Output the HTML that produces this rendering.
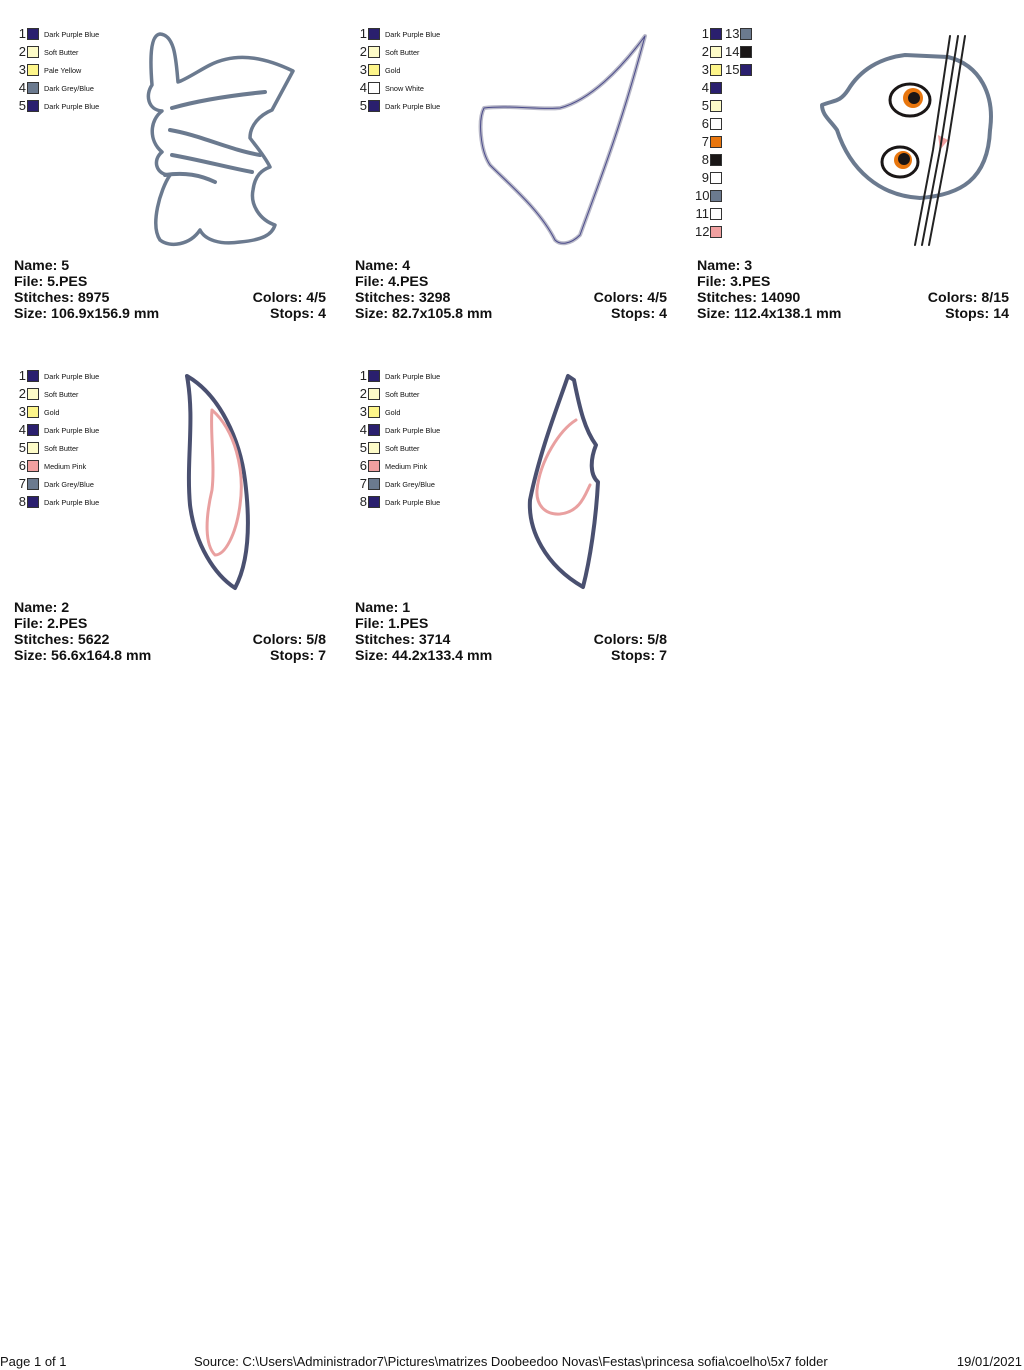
<!DOCTYPE html>
<html><head><meta charset="utf-8"><style>
body{margin:0;width:1024px;height:1370px;background:#fff;position:relative;overflow:hidden;font-family:"Liberation Sans",sans-serif}
.r{position:absolute;height:14px}
.n{position:absolute;width:14px;text-align:right;font-size:13px;line-height:14px;color:#222;left:0}
.s{position:absolute;left:15px;top:1px;width:12px;height:12px;border:1px solid #333;box-sizing:border-box}
.l{position:absolute;left:32px;top:3px;font-size:7.3px;white-space:nowrap;color:#111}
.i{position:absolute;font-weight:bold;font-size:14.2px;line-height:16px;color:#111;width:312px}
.i div{position:relative}
.i span{position:absolute;right:0}
.f{position:absolute;top:1354px;font-size:13px;color:#111}
</style></head><body>

<div class="r" style="left:12px;top:27px"><div class="n">1</div><div class="s" style="background:#2a1f6e"></div><div class="l">Dark Purple Blue</div></div>
<div class="r" style="left:12px;top:45px"><div class="n">2</div><div class="s" style="background:#fdfbc8"></div><div class="l">Soft Butter</div></div>
<div class="r" style="left:12px;top:63px"><div class="n">3</div><div class="s" style="background:#fdf58a"></div><div class="l">Pale Yellow</div></div>
<div class="r" style="left:12px;top:81px"><div class="n">4</div><div class="s" style="background:#6b7a8f"></div><div class="l">Dark Grey/Blue</div></div>
<div class="r" style="left:12px;top:99px"><div class="n">5</div><div class="s" style="background:#2a1f6e"></div><div class="l">Dark Purple Blue</div></div>

<div class="r" style="left:353px;top:27px"><div class="n">1</div><div class="s" style="background:#2a1f6e"></div><div class="l">Dark Purple Blue</div></div>
<div class="r" style="left:353px;top:45px"><div class="n">2</div><div class="s" style="background:#fdfbc8"></div><div class="l">Soft Butter</div></div>
<div class="r" style="left:353px;top:63px"><div class="n">3</div><div class="s" style="background:#fdf58a"></div><div class="l">Gold</div></div>
<div class="r" style="left:353px;top:81px"><div class="n">4</div><div class="s" style="background:#fff"></div><div class="l">Snow White</div></div>
<div class="r" style="left:353px;top:99px"><div class="n">5</div><div class="s" style="background:#2a1f6e"></div><div class="l">Dark Purple Blue</div></div>

<div class="r" style="left:695px;top:27px"><div class="n">1</div><div class="s" style="background:#2a1f6e"></div></div>
<div class="r" style="left:695px;top:45px"><div class="n">2</div><div class="s" style="background:#fdfbc8"></div></div>
<div class="r" style="left:695px;top:63px"><div class="n">3</div><div class="s" style="background:#fdf58a"></div></div>
<div class="r" style="left:695px;top:81px"><div class="n">4</div><div class="s" style="background:#2a1f6e"></div></div>
<div class="r" style="left:695px;top:99px"><div class="n">5</div><div class="s" style="background:#fdfbc8"></div></div>
<div class="r" style="left:695px;top:117px"><div class="n">6</div><div class="s" style="background:#fff"></div></div>
<div class="r" style="left:695px;top:135px"><div class="n">7</div><div class="s" style="background:#e8760e"></div></div>
<div class="r" style="left:695px;top:153px"><div class="n">8</div><div class="s" style="background:#1a1616"></div></div>
<div class="r" style="left:695px;top:171px"><div class="n">9</div><div class="s" style="background:#fff"></div></div>
<div class="r" style="left:695px;top:189px"><div class="n">10</div><div class="s" style="background:#6b7a8f"></div></div>
<div class="r" style="left:695px;top:207px"><div class="n">11</div><div class="s" style="background:#fff"></div></div>
<div class="r" style="left:695px;top:225px"><div class="n">12</div><div class="s" style="background:#f0a0a0"></div></div>
<div class="r" style="left:725px;top:27px"><div class="n">13</div><div class="s" style="background:#6b7a8f"></div></div>
<div class="r" style="left:725px;top:45px"><div class="n">14</div><div class="s" style="background:#1a1616"></div></div>
<div class="r" style="left:725px;top:63px"><div class="n">15</div><div class="s" style="background:#2a1f6e"></div></div>

<div class="r" style="left:12px;top:369px"><div class="n">1</div><div class="s" style="background:#2a1f6e"></div><div class="l">Dark Purple Blue</div></div>
<div class="r" style="left:12px;top:387px"><div class="n">2</div><div class="s" style="background:#fdfbc8"></div><div class="l">Soft Butter</div></div>
<div class="r" style="left:12px;top:405px"><div class="n">3</div><div class="s" style="background:#fdf58a"></div><div class="l">Gold</div></div>
<div class="r" style="left:12px;top:423px"><div class="n">4</div><div class="s" style="background:#2a1f6e"></div><div class="l">Dark Purple Blue</div></div>
<div class="r" style="left:12px;top:441px"><div class="n">5</div><div class="s" style="background:#fdfbc8"></div><div class="l">Soft Butter</div></div>
<div class="r" style="left:12px;top:459px"><div class="n">6</div><div class="s" style="background:#f0a0a0"></div><div class="l">Medium Pink</div></div>
<div class="r" style="left:12px;top:477px"><div class="n">7</div><div class="s" style="background:#6b7a8f"></div><div class="l">Dark Grey/Blue</div></div>
<div class="r" style="left:12px;top:495px"><div class="n">8</div><div class="s" style="background:#2a1f6e"></div><div class="l">Dark Purple Blue</div></div>

<div class="r" style="left:353px;top:369px"><div class="n">1</div><div class="s" style="background:#2a1f6e"></div><div class="l">Dark Purple Blue</div></div>
<div class="r" style="left:353px;top:387px"><div class="n">2</div><div class="s" style="background:#fdfbc8"></div><div class="l">Soft Butter</div></div>
<div class="r" style="left:353px;top:405px"><div class="n">3</div><div class="s" style="background:#fdf58a"></div><div class="l">Gold</div></div>
<div class="r" style="left:353px;top:423px"><div class="n">4</div><div class="s" style="background:#2a1f6e"></div><div class="l">Dark Purple Blue</div></div>
<div class="r" style="left:353px;top:441px"><div class="n">5</div><div class="s" style="background:#fdfbc8"></div><div class="l">Soft Butter</div></div>
<div class="r" style="left:353px;top:459px"><div class="n">6</div><div class="s" style="background:#f0a0a0"></div><div class="l">Medium Pink</div></div>
<div class="r" style="left:353px;top:477px"><div class="n">7</div><div class="s" style="background:#6b7a8f"></div><div class="l">Dark Grey/Blue</div></div>
<div class="r" style="left:353px;top:495px"><div class="n">8</div><div class="s" style="background:#2a1f6e"></div><div class="l">Dark Purple Blue</div></div>

<svg width="1024" height="700" style="position:absolute;left:0;top:0" fill="none" stroke-linejoin="round" stroke-linecap="round">
<g stroke="#6b7a8f" stroke-width="4">
<path d="M293 71 C270 60 240 50 210 65 C200 70 185 80 178 82 C176 60 175 35 160 34 C150 35 150 60 152 85 C145 95 148 110 162 111 C150 120 148 140 162 152 C152 160 156 175 170 175 C160 190 150 225 160 240 C170 248 190 245 200 230 C205 240 220 245 240 242 C262 240 272 235 275 225 C260 220 250 205 253 190 C255 175 262 170 270 167 C264 155 255 145 250 138 C250 125 260 115 272 110 Z" stroke-width="3.5"/>
<path d="M172 108 C200 100 235 95 265 92"/>
<path d="M170 130 C200 135 230 150 260 155"/>
<path d="M172 155 C200 160 230 168 252 172"/>
<path d="M165 175 C185 172 200 175 215 182"/>
</g>
<path d="M645 36 C620 70 590 100 560 108 C540 110 510 105 484 108 C478 120 480 150 490 165 C510 185 540 210 555 240 C560 245 570 245 580 235 C600 180 620 130 645 36 Z" stroke="#b8b8c8" stroke-width="4"/>
<path d="M645 36 C620 70 590 100 560 108 C540 110 510 105 484 108 C478 120 480 150 490 165 C510 185 540 210 555 240 C560 245 570 245 580 235 C600 180 620 130 645 36 Z" stroke="#4a4a8a" stroke-width="1"/>
<path d="M948 57 C980 65 995 95 990 130 C988 180 960 195 920 198 C880 196 850 170 837 130 C830 120 822 115 822 105 C835 100 840 102 848 90 C860 70 880 58 905 55 Z" stroke="#6b7a8f" stroke-width="4"/>
<ellipse cx="910" cy="100" rx="20" ry="16" stroke="#1a1616" stroke-width="3" fill="#fff"/>
<circle cx="913" cy="98" r="10" fill="#e8760e" stroke="none"/>
<circle cx="914" cy="98" r="6" fill="#1a1616" stroke="none"/>
<ellipse cx="900" cy="162" rx="18" ry="15" stroke="#1a1616" stroke-width="3" fill="#fff"/>
<circle cx="903" cy="160" r="9" fill="#e8760e" stroke="none"/>
<circle cx="904" cy="159" r="6" fill="#1a1616" stroke="none"/>
<path d="M938 135 L948 140 L940 150 Z" fill="#f0a0a0" stroke="none"/>
<g stroke="#222" stroke-width="2"><path d="M950 36 L933 150 L915 245"/><path d="M958 36 L940 150 L922 245"/><path d="M965 36 L947 150 L929 245"/></g>
<path d="M187 376 C220 395 240 440 245 480 C250 520 250 560 235 588 C215 575 195 545 190 505 C186 460 195 420 187 376 Z" stroke="#4a5070" stroke-width="4"/>
<path d="M212 410 C235 430 245 470 240 505 C236 535 225 555 215 555 C205 545 205 520 212 490 C215 465 210 430 212 410 Z" stroke="#e9a0a0" stroke-width="3"/>
<path d="M568 376 C560 400 540 450 530 500 C528 530 545 565 583 587 C590 560 596 520 598 482 C590 475 590 460 596 445 C585 430 580 410 574 380 Z" stroke="#4a5070" stroke-width="4"/>
<path d="M576 420 C560 430 540 460 537 490 C536 505 545 515 560 514 C580 512 585 495 590 485" stroke="#e9a0a0" stroke-width="3"/>
</svg>

<div class="i" style="left:14px;top:258px"><div>Name: 5</div><div>File: 5.PES</div><div>Stitches: 8975<span>Colors: 4/5</span></div><div>Size: 106.9x156.9 mm<span>Stops: 4</span></div></div>
<div class="i" style="left:355px;top:258px"><div>Name: 4</div><div>File: 4.PES</div><div>Stitches: 3298<span>Colors: 4/5</span></div><div>Size: 82.7x105.8 mm<span>Stops: 4</span></div></div>
<div class="i" style="left:697px;top:258px"><div>Name: 3</div><div>File: 3.PES</div><div>Stitches: 14090<span>Colors: 8/15</span></div><div>Size: 112.4x138.1 mm<span>Stops: 14</span></div></div>
<div class="i" style="left:14px;top:600px"><div>Name: 2</div><div>File: 2.PES</div><div>Stitches: 5622<span>Colors: 5/8</span></div><div>Size: 56.6x164.8 mm<span>Stops: 7</span></div></div>
<div class="i" style="left:355px;top:600px"><div>Name: 1</div><div>File: 1.PES</div><div>Stitches: 3714<span>Colors: 5/8</span></div><div>Size: 44.2x133.4 mm<span>Stops: 7</span></div></div>

<div class="f" style="left:0">Page 1 of 1</div>
<div class="f" style="left:194px">Source: C:\Users\Administrador7\Pictures\matrizes Doobeedoo Novas\Festas\princesa sofia\coelho\5x7 folder</div>
<div class="f" style="right:2px">19/01/2021</div>
</body></html>
